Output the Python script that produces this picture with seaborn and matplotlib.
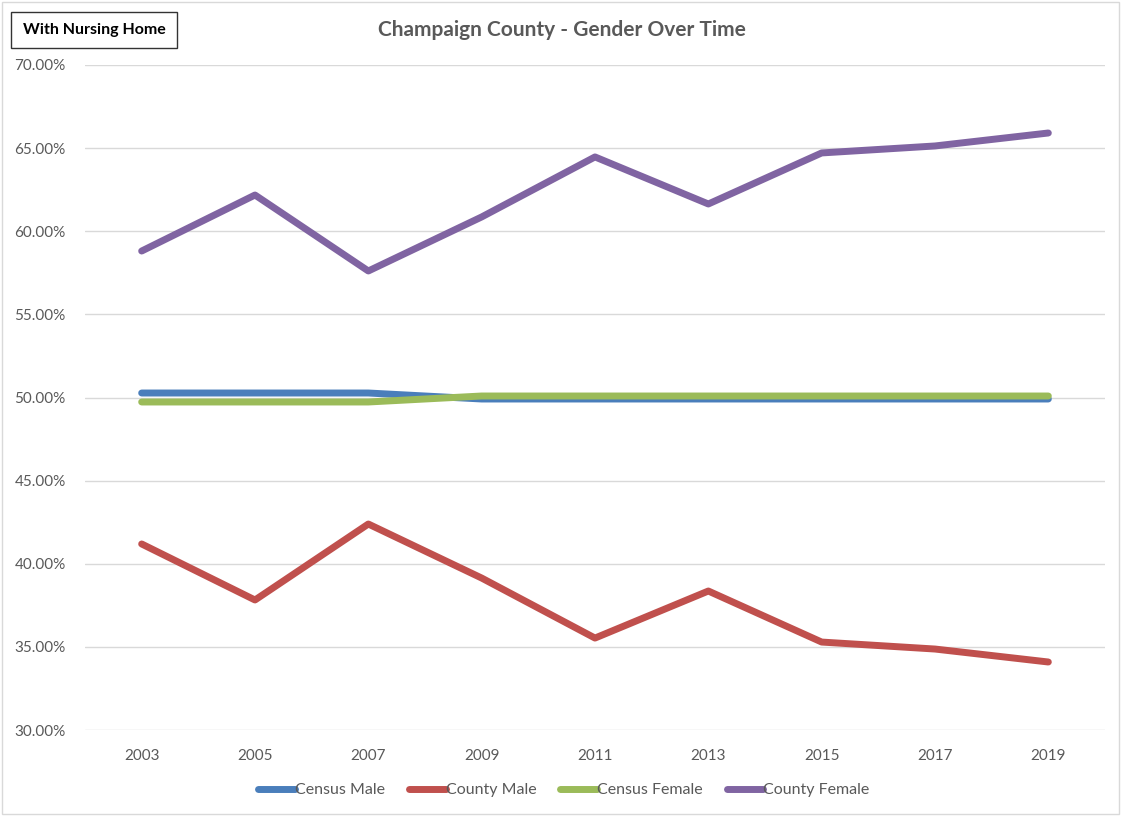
import numpy as np
import pandas as pd
import matplotlib.pyplot as plt
import matplotlib.ticker as mticker
from matplotlib.patches import Rectangle
import seaborn as sns

YEARS = ["2003", "2005", "2007", "2009", "2011", "2013", "2015", "2017", "2019"]
CENSUS_MALE = [50.27, 50.27, 50.27, 49.91, 49.91, 49.91, 49.91, 49.91, 49.91]
COUNTY_MALE = [41.19, 37.82, 42.39, 39.14, 35.53, 38.36, 35.29, 34.87, 34.09]
CENSUS_FEMALE = [49.73, 49.73, 49.73, 50.09, 50.09, 50.09, 50.09, 50.09, 50.09]
COUNTY_FEMALE = [58.81, 62.18, 57.61, 60.86, 64.47, 61.64, 64.71, 65.13, 65.91]

SERIES = ["Census Male", "County Male", "Census Female", "County Female"]
COLORS = ["#4A7EBB", "#C0504D", "#9BBB59", "#8064A2"]

df = pd.DataFrame({
    "Year": YEARS * 4,
    "Share": CENSUS_MALE + COUNTY_MALE + CENSUS_FEMALE + COUNTY_FEMALE,
    "Series": [s for s in SERIES for _ in YEARS],
})

sns.set_style("white")
plt.rcParams["font.family"] = ["Lato", "DejaVu Sans"]

fig = plt.figure(figsize=(11.21, 8.16), dpi=100)
ax = fig.add_axes([85 / 1121, 1 - 730 / 816, 1020 / 1121, 665 / 816])

sns.lineplot(
    data=df, x="Year", y="Share", hue="Series", hue_order=SERIES,
    palette=COLORS, linewidth=5, ax=ax, sort=False,
)
for line in ax.lines:
    line.set_solid_capstyle("round")
    line.set_solid_joinstyle("round")

ax.set_xlim(-0.5, len(YEARS) - 0.5)
ax.set_ylim(30, 70)
ax.yaxis.set_major_locator(mticker.MultipleLocator(5))
ax.yaxis.set_major_formatter(mticker.FuncFormatter(lambda v, _: f"{v:.2f}%"))
ax.grid(axis="y", color="#D9D9D9", linewidth=1)
ax.set_axisbelow(True)
for sp in ax.spines.values():
    sp.set_visible(False)
ax.tick_params(axis="both", length=0, labelsize=11, labelcolor="#595959")
ax.tick_params(axis="x", pad=14)
ax.tick_params(axis="y", pad=14)
ax.set_xlabel("")
ax.set_ylabel("")

# legend centred on the figure, below the plot area
handles, labels = ax.get_legend_handles_labels()
leg = ax.legend(
    handles, labels, loc="center", bbox_to_anchor=(564 / 1121, 1 - 790 / 816),
    bbox_transform=fig.transFigure,
    ncol=4, frameon=False, handlelength=2.3, handletextpad=0.0, columnspacing=1.5,
    fontsize=11.5, labelcolor="#595959",
)
for h in leg.get_lines():
    h.set_solid_capstyle("round")

fig.text(562 / 1121, 1 - 30 / 816, "Champaign County - Gender Over Time",
         ha="center", va="center", fontsize=15, fontweight="bold", color="#595959")
fig.text(94 / 1121, 1 - 30 / 816, "With Nursing Home", ha="center", va="center",
         fontsize=11.5, fontweight="bold", color="black",
         bbox=dict(boxstyle="square,pad=0.7", fc="white", ec="#333333", lw=1))

fig.patches.append(Rectangle((2 / 1121, 2 / 816), 1 - 4 / 1121, 1 - 4 / 816,
                             transform=fig.transFigure, fill=False, ec="#D9D9D9", lw=1))

fig.savefig("out.png", dpi=100)
